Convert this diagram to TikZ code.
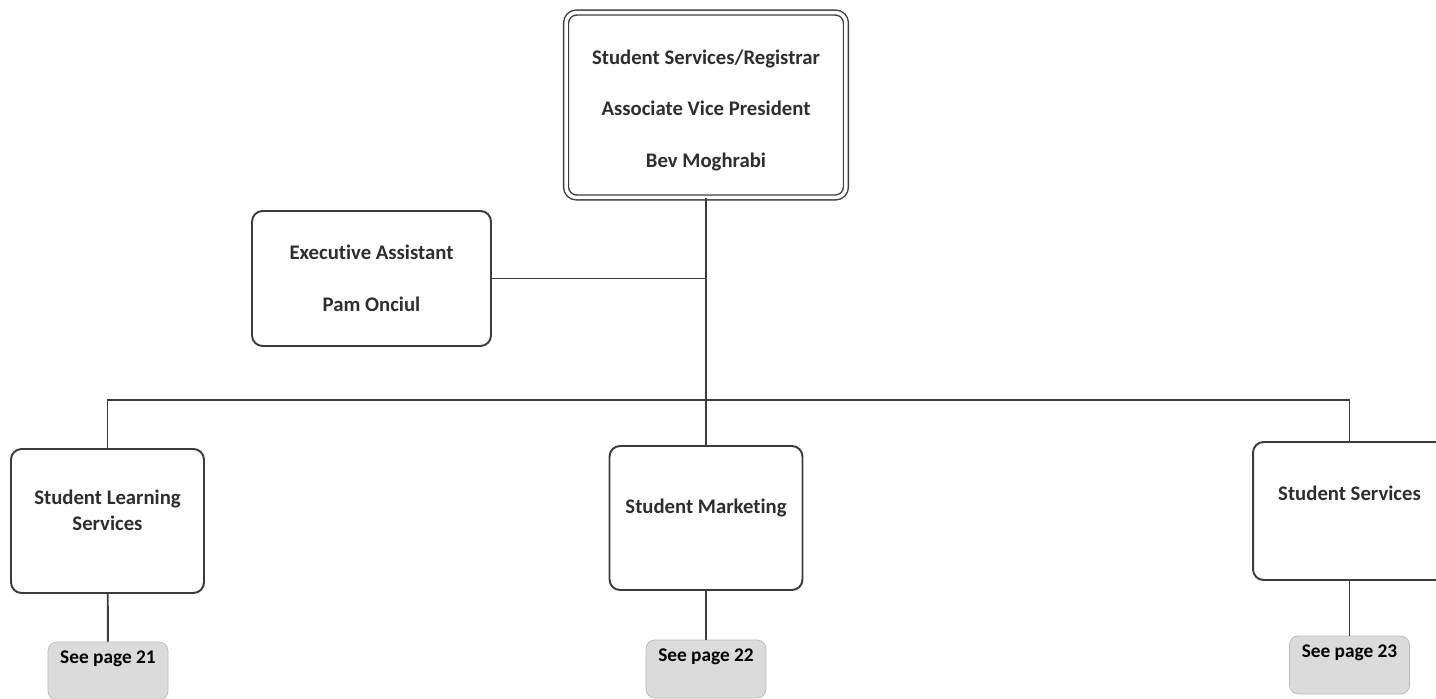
\documentclass[tikz,border=0pt]{standalone}
\usepackage{fontspec}
\setmainfont{Carlito}[Ligatures=NoCommon]
\definecolor{linegray}{HTML}{3C3C3C}
\definecolor{textgray}{HTML}{2E2E2E}
\begin{document}
\begin{tikzpicture}
        [x=0.02cm, y=-0.02cm,
        box/.style={draw=linegray, line width=1.1pt, rounded corners=6pt, align=center,
                text=textgray, font=\bfseries\fontsize{11.8}{14.7}\selectfont},
        wide/.style={box, font=\bfseries\fontsize{11.8}{29.5}\selectfont},
        head/.style={wide, double=white, double distance=2pt, line width=0.8pt},
        seepage/.style={draw=gray!55, fill=gray!28, rounded corners=5pt, thin,
                minimum width=2.4cm, minimum height=1.16cm, text depth=16pt,
                text=black, font=\bfseries\fontsize{11}{13}\selectfont},
        edge/.style={draw=linegray, line width=1.1pt}]

        \useasboundingbox (0,0) rectangle (1436,699);

        % top and assistant
        \node[head, minimum width=5.6cm, minimum height=3.7cm] (avp) at (706,105)
                {\rule{0pt}{14.5pt}Student Services/Registrar\\Associate Vice President\\Bev Moghrabi};
        \node[wide, minimum width=4.78cm, minimum height=2.7cm] (exec) at (371.5,278.5)
                {Executive Assistant\\Pam Onciul};

        % departments
        \node[box, minimum width=3.86cm, minimum height=2.88cm, text depth=12.7pt] (learning) at (107.5,521)
                {Student Learning\\Services};
        \node[box, minimum width=3.86cm, minimum height=2.88cm, text depth=13.8pt] (marketing) at (706,518)
                {Student Marketing};
        \node[box, minimum width=3.86cm, minimum height=2.76cm, text depth=20pt] (services) at (1349.5,511)
                {Student Services};

        % page references
        \node[seepage] (page21) at (108,671) {See page 21};
        \node[seepage] (page22) at (706,669) {See page 22};
        \node[seepage] (page23) at (1349.5,665) {See page 23};

        \coordinate (bar) at (0,400);

        % lines
        \draw[edge] (avp) -- (marketing);
        \draw[edge] (exec) -- (exec -| avp);
        \draw[edge] (learning) |- (bar -| services) -- (services);
        \draw[edge] (learning) -- (page21);
        \draw[edge] (marketing) -- (page22);
        \draw[edge] (services) -- (page23);

\end{tikzpicture}
\end{document}
